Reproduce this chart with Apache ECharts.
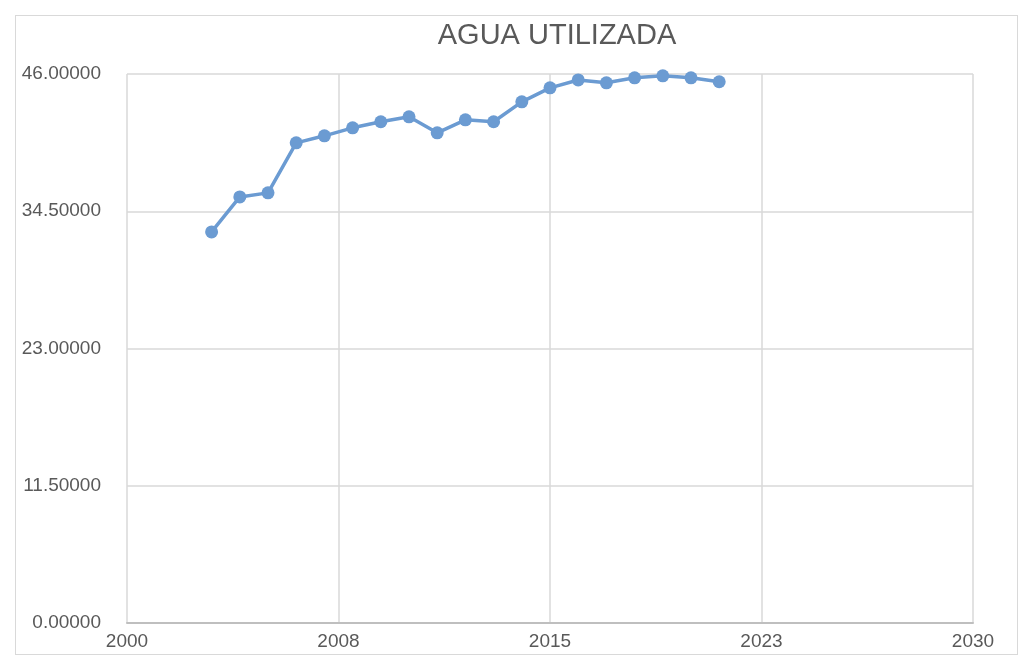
<!DOCTYPE html>
<html>
<head>
<meta charset="utf-8">
<script src="https://cdn.jsdelivr.net/npm/echarts@6/dist/echarts.min.js"></script>
<style>
html,body{margin:0;padding:0;background:#fff;}
#frame{position:absolute;left:15px;top:15px;width:1003px;height:640px;border:1px solid #d9d9d9;box-sizing:border-box;}
#chart{position:absolute;left:0;top:0;width:1024px;height:668px;}
</style>
</head>
<body>
<div id="frame"></div>
<div id="chart"></div>
<script>
const titleText = 'AGUA UTILIZADA';
const years = [2003,2004,2005,2006,2007,2008,2009,2010,2011,2012,2013,2014,2015,2016,2017,2018,2019,2020,2021];
const values = [32.77,35.70,36.04,40.23,40.82,41.49,42.00,42.41,41.07,42.16,42.00,43.67,44.84,45.50,45.26,45.68,45.85,45.68,45.35];
const xMin = 2000, xMax = 2030, xStep = 7.5;
const yMin = 0, yMax = 46, yStep = 11.5;

const font = 'Liberation Sans, Arial, sans-serif';
const chart = echarts.init(document.getElementById('chart'));
chart.setOption({
  animation: false,
  backgroundColor: 'transparent',
  title: {
    text: titleText,
    left: 552, top: 16, textAlign: 'center',
    textStyle: {fontFamily: font, fontSize: 29, fontWeight: 'normal', color: '#595959'}
  },
  grid: {left: 127, right: 51, top: 74, bottom: 45, containLabel: false},
  xAxis: {
    type: 'value', min: xMin, max: xMax, interval: xStep,
    axisLine: {show: true, lineStyle: {color: '#bfbfbf', width: 2}},
    axisTick: {show: false},
    splitLine: {show: true, lineStyle: {color: '#d9d9d9', width: 1.5}},
    axisLabel: {
      color: '#595959', fontSize: 19, fontFamily: font, margin: 9,
      formatter: v => String(Math.round(v)),
      showMaxLabel: true, showMinLabel: true
    }
  },
  yAxis: {
    type: 'value', min: yMin, max: yMax, interval: yStep,
    axisLine: {show: false},
    axisTick: {show: false},
    splitLine: {show: true, lineStyle: {color: '#d9d9d9', width: 1.5}},
    axisLabel: {
      color: '#595959', fontSize: 19, fontFamily: font, margin: 26,
      formatter: v => v.toFixed(5)
    }
  },
  series: [{
    type: 'line',
    data: years.map((y, i) => [y, values[i]]),
    symbol: 'circle', symbolSize: 13,
    lineStyle: {color: '#6b9bd2', width: 3.5},
    itemStyle: {color: '#6b9bd2'}
  }]
});
</script>
</body>
</html>
